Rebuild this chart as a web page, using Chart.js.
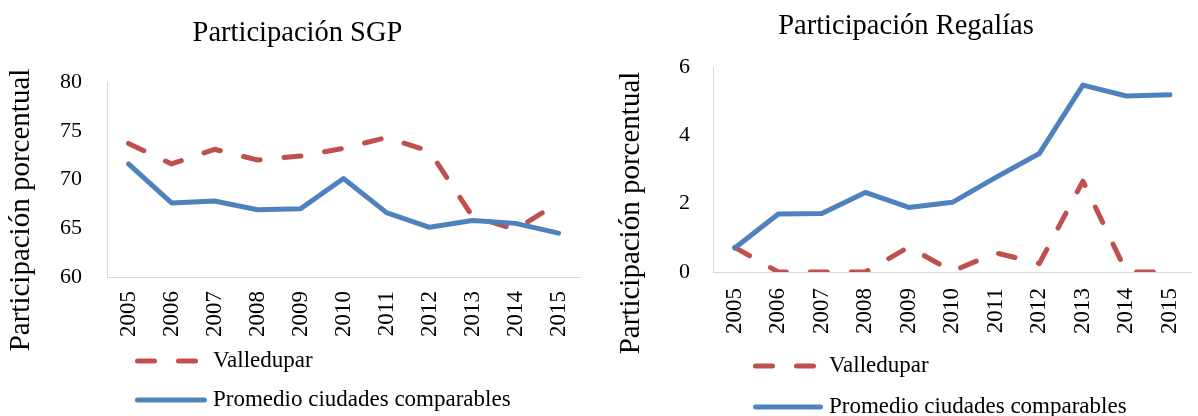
<!DOCTYPE html>
<html><head><meta charset="utf-8">
<script src="https://cdn.jsdelivr.net/npm/chart.js@4"></script>
<style>
html,body{margin:0;padding:0;background:#fff;overflow:hidden;width:1198px;height:416px;position:relative;}
#c1{position:absolute;left:0;top:0;}
#c2{position:absolute;left:600px;top:0;}
</style></head><body>
<canvas id="c1" width="604" height="416"></canvas>
<canvas id="c2" width="614" height="416"></canvas>
<script>
// ---- data ----
const years = ['2005','2006','2007','2008','2009','2010','2011','2012','2013','2014','2015'];
const seriesNames = ['Valledupar', 'Promedio ciudades comparables'];
const sgpValledupar = [73.7, 71.6, 73.1, 72.0, 72.4, 73.2, 74.3, 72.9, 66.2, 64.9, 67.6];
const sgpPromedio   = [71.6, 67.6, 67.8, 66.9, 67.0, 70.1, 66.6, 65.1, 65.8, 65.5, 64.5];
const regValledupar = [0.72, 0, 0, 0, 0.73, 0.02, 0.56, 0.25, 2.66, 0, 0];
const regPromedio   = [0.70, 1.70, 1.71, 2.33, 1.89, 2.04, 2.77, 3.47, 5.47, 5.15, 5.19];
const titles = ['Participación SGP', 'Participación Regalías'];
const axisTitle = 'Participación porcentual';
const sgpTicks = {min: 60, max: 80, step: 5};
const regTicks = {min: 0, max: 6, step: 2};

// ---- style ----
const FONT = "'Liberation Serif', 'Times New Roman', serif";
const RED = '#C0504D', BLUE = '#4F81BD', AXIS = '#D9D9D9';

const extras = {
  id: 'extras',
  afterDraw(chart, args, o) {
    const ctx = chart.ctx, ca = chart.chartArea;
    ctx.save();
    ctx.translate(o.titleX, o.titleY);
    ctx.rotate(-Math.PI / 2);
    ctx.font = '29px ' + FONT;
    ctx.fillStyle = '#000';
    ctx.textAlign = 'center';
    ctx.textBaseline = 'middle';
    ctx.fillText(axisTitle, 0, 0);
    ctx.restore();

    chart.data.datasets.forEach((ds, i) => {
      const y = ca.bottom + o.rows[i];
      const x0 = ca.left + o.sx;
      ctx.save();
      ctx.strokeStyle = ds.borderColor;
      ctx.lineWidth = ds.borderWidth;
      ctx.lineCap = 'round';
      ctx.setLineDash(ds.borderDash || []);
      ctx.beginPath();
      ctx.moveTo(x0, y);
      ctx.lineTo(x0 + (ds.borderDash ? o.dashLen : o.solidLen), y);
      ctx.stroke();
      ctx.restore();
      ctx.save();
      ctx.font = '23px ' + FONT;
      ctx.fillStyle = '#000';
      ctx.textAlign = 'left';
      ctx.textBaseline = 'middle';
      ctx.fillText(ds.label, ca.left + o.tx, y);
      ctx.restore();
    });
  }
};

function makeChart(id, title, vData, pData, tk, cfg) {
  return new Chart(document.getElementById(id), {
    type: 'line',
    data: {
      labels: years,
      datasets: [
        {label: seriesNames[0], data: vData, borderColor: RED, backgroundColor: RED,
         borderWidth: 5, borderDash: [17, 24], borderCapStyle: 'round', borderJoinStyle: 'round',
         pointRadius: 0, tension: 0, order: 1},
        {label: seriesNames[1], data: pData, borderColor: BLUE, backgroundColor: BLUE,
         borderWidth: 5, borderCapStyle: 'round', borderJoinStyle: 'round',
         pointRadius: 0, tension: 0, order: 0}
      ]
    },
    options: {
      responsive: false,
      animation: false,
      devicePixelRatio: 1,
      layout: {padding: {left: cfg.padL, right: cfg.padR, top: 0, bottom: cfg.padB}},
      plugins: {
        legend: {display: false},
        tooltip: {enabled: false},
        title: {display: true, text: title, color: '#000',
                font: {family: FONT, size: 28.5, weight: 'normal'},
                padding: {top: cfg.titleTop, bottom: cfg.titleBottom}},
        extras: cfg.extras
      },
      scales: {
        x: {
          type: 'category', offset: true,
          grid: {display: false, drawTicks: false},
          border: {display: true, color: AXIS, width: 1},
          ticks: {color: '#000', font: {family: FONT, size: 23}, minRotation: 90, maxRotation: 90,
                  autoSkip: false, padding: cfg.xPad},
          afterFit: s => { s.height = 70; }
        },
        y: {
          min: tk.min, max: tk.max,
          grid: {display: false, drawTicks: false},
          border: {display: true, color: AXIS, width: 1},
          ticks: {color: '#000', font: {family: FONT, size: 22}, stepSize: tk.step, padding: cfg.yPad},
          afterFit: s => { s.width = cfg.yWidth; }
        }
      }
    },
    plugins: [extras]
  });
}

makeChart('c1', titles[0], sgpValledupar, sgpPromedio, sgpTicks, {
  padL: 15, padR: 24, padB: 69, titleTop: 16.5, titleBottom: 31.3, xPad: 14, yPad: 25, yWidth: 92,
  extras: {titleX: 21, titleY: 210, rows: [84, 123], sx: 30.5, dashLen: 60, solidLen: 67, tx: 106}
});
makeChart('c2', titles[1], regValledupar, regPromedio, regTicks, {
  padL: 8, padR: 10, padB: 74, titleTop: 9.5, titleBottom: 23.3, xPad: 16, yPad: 23, yWidth: 105,
  extras: {titleX: 31, titleY: 213, rows: [94, 135], sx: 42.5, dashLen: 60, solidLen: 65, tx: 116}
});
</script>
</body></html>
